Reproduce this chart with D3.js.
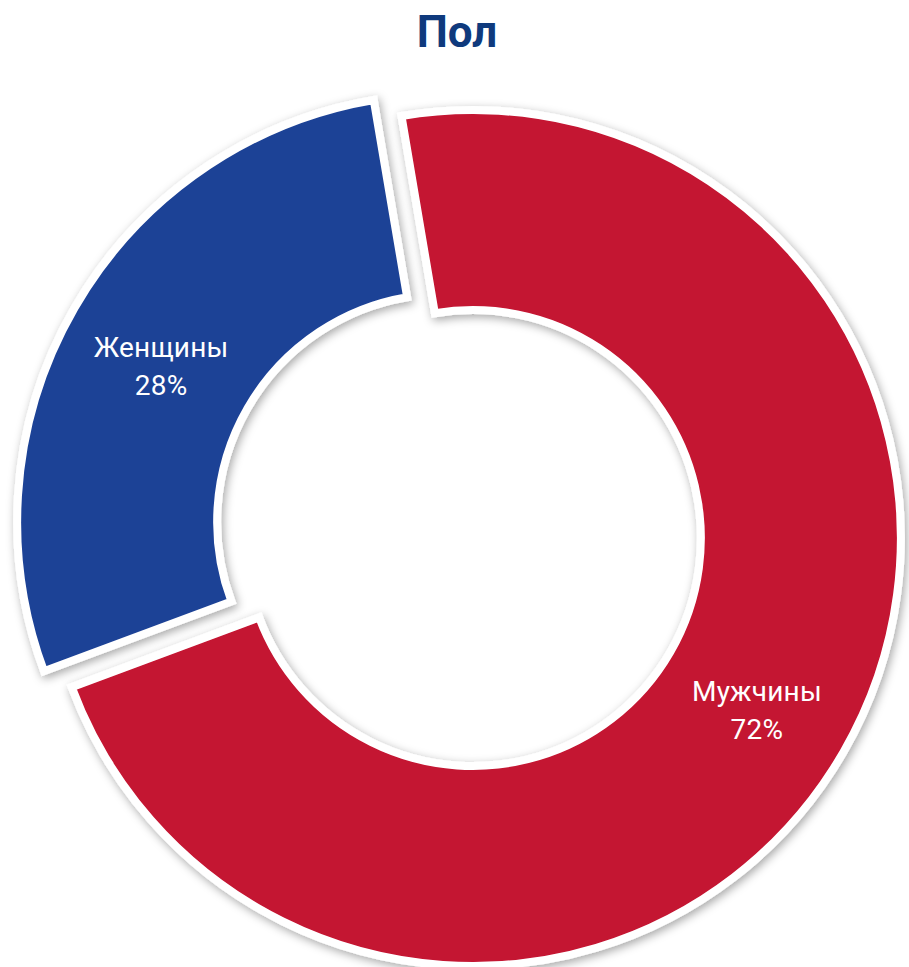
<!DOCTYPE html>
<html>
<head>
<meta charset="utf-8">
<script src="https://cdn.jsdelivr.net/npm/d3@7"></script>
<style>
  html, body { margin: 0; padding: 0; background: #ffffff; }
  svg { display: block; }
</style>
</head>
<body>
<svg id="chart" width="909" height="967"></svg>
<script>
const title = "Пол";
const categories = ["Мужчины", "Женщины"];
const values = [72, 28];
const colors = ["#c41230", "#1d4296"];

const W = 909, H = 967;
const cx = 459, cy = 530;
const outerR = 428, innerR = 228, explode = 16;
const startDeg = -9.6;

const svg = d3.select("#chart");
const defs = svg.append("defs");
const f = defs.append("filter").attr("id", "shadow")
  .attr("x", "-20%").attr("y", "-20%").attr("width", "140%").attr("height", "140%");
f.append("feDropShadow").attr("dx", 2).attr("dy", 3).attr("stdDeviation", 5)
  .attr("flood-color", "#000").attr("flood-opacity", 0.35);

svg.append("text")
  .attr("x", 457).attr("y", 47)
  .attr("text-anchor", "middle")
  .attr("font-family", "Roboto, 'DejaVu Sans', sans-serif")
  .attr("font-weight", "bold")
  .attr("font-size", 44)
  .attr("fill", "#0f3a7d")
  .text(title);

const data = categories.map((c, i) => ({ name: c, value: values[i], color: colors[i] }));
const start = startDeg * Math.PI / 180;
const pie = d3.pie().sort(null).value(d => d.value)
  .startAngle(start).endAngle(start + 2 * Math.PI);
const arc = d3.arc().innerRadius(innerR).outerRadius(outerR);
const arcs = pie(data);

const g = svg.append("g").attr("transform", `translate(${cx},${cy})`);

const slices = g.selectAll("g.slice").data(arcs).join("g")
  .attr("class", "slice")
  .attr("transform", d => {
    const m = (d.startAngle + d.endAngle) / 2;
    return `translate(${explode * Math.sin(m)},${-explode * Math.cos(m)})`;
  });

slices.append("path")
  .attr("d", arc)
  .attr("fill", d => d.data.color)
  .attr("stroke", "#ffffff")
  .attr("stroke-width", 8)
  .attr("stroke-linejoin", "miter")
  .attr("filter", "url(#shadow)");

const labels = slices.append("text")
  .attr("text-anchor", "middle")
  .attr("font-family", "Roboto, 'DejaVu Sans', sans-serif")
  .attr("font-size", 28)
  .attr("font-weight", 400)
  .attr("letter-spacing", 0.2)
  .attr("fill", "#ffffff")
  .attr("transform", d => { const c = arc.centroid(d); return `translate(${c[0]},${c[1]})`; });
labels.append("tspan").attr("x", 0).attr("y", -1).text(d => d.data.name);
labels.append("tspan").attr("x", 0).attr("y", 37).text(d => d.data.value + "%");
</script>
</body>
</html>
